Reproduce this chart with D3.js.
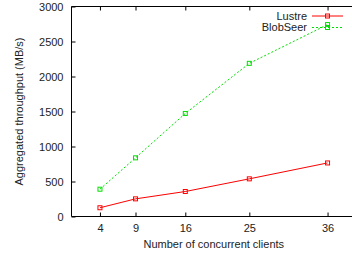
<!DOCTYPE html>
<html>
<head>
<meta charset="utf-8">
<script src="https://cdn.jsdelivr.net/npm/d3@7"></script>
<style>
  body { margin: 0; background: #fff; }
  svg text { font-family: "Liberation Sans", Arial, sans-serif; fill: #222; }
</style>
</head>
<body>
<svg id="chart"></svg>
<script>
const clients = [4, 9, 16, 25, 36];
const lustre = [125, 252, 357, 538, 765];
const blobseer = [390, 838, 1472, 2188, 2742];
const yTicks = [0, 500, 1000, 1500, 2000, 2500, 3000];
const seriesNames = ["Lustre", "BlobSeer"];

const W = 352, H = 254;
const plot = { left: 71.5, right: 356, top: 6.5, bottom: 216.5 };

const svg = d3.select("#chart").attr("width", W).attr("height", H);

const x = d3.scaleLinear().domain([0, 40]).range([plot.left, plot.right]);
const y = d3.scaleLinear().domain([0, 3000]).range([plot.bottom, plot.top]);

// ticks inward on all sides
svg.append("g").attr("transform", `translate(0,${plot.bottom})`)
    .call(d3.axisBottom(x).tickValues(clients).tickSize(-4).tickPadding(8).tickFormat(d3.format("d")))
    .call(g => g.select(".domain").remove())
    .call(g => g.selectAll("text").style("font-size", "11px"));
svg.append("g").attr("transform", `translate(0,${plot.top})`)
    .call(d3.axisTop(x).tickValues(clients).tickSize(-4).tickFormat(""))
    .call(g => g.select(".domain").remove());
svg.append("g").attr("transform", `translate(${plot.left},0)`)
    .call(d3.axisLeft(y).tickValues(yTicks).tickSize(-4).tickPadding(8).tickFormat(d3.format("d")))
    .call(g => g.select(".domain").remove())
    .call(g => g.selectAll("text").style("font-size", "11px"));

// frame
svg.append("path")
    .attr("d", `M${plot.right},${plot.top}H${plot.left}V${plot.bottom}H${plot.right}`)
    .attr("fill", "none").attr("stroke", "#000").attr("stroke-width", 1);

const line = d3.line().x(d => x(d[0])).y(d => y(d[1]));

const series = [
    { name: seriesNames[0], values: lustre, color: "#ff0000", dash: null },
    { name: seriesNames[1], values: blobseer, color: "#00e000", dash: "2,2" }
];

series.forEach((s, i) => {
    const pts = clients.map((c, j) => [c, s.values[j]]);
    svg.append("path").datum(pts)
        .attr("d", line)
        .attr("fill", "none")
        .attr("stroke", s.color)
        .attr("stroke-width", 1)
        .attr("stroke-dasharray", s.dash);
    svg.selectAll(null).data(pts).enter().append("rect")
        .attr("x", d => x(d[0]) - 2)
        .attr("y", d => y(d[1]) - 2)
        .attr("width", 4).attr("height", 4)
        .attr("fill", "none").attr("stroke", s.color).attr("stroke-width", 1);

    // legend
    const ly = 16 + i * 11.5;
    svg.append("text")
        .attr("x", 307).attr("y", ly).attr("dy", "0.35em")
        .attr("text-anchor", "end").style("font-size", "11px")
        .text(s.name);
    svg.append("line")
        .attr("x1", 312).attr("x2", 343).attr("y1", ly).attr("y2", ly)
        .attr("stroke", s.color).attr("stroke-width", 1)
        .attr("stroke-dasharray", s.dash);
    svg.append("rect")
        .attr("x", 327.5 - 2).attr("y", ly - 2)
        .attr("width", 4).attr("height", 4)
        .attr("fill", "none").attr("stroke", s.color);
});

// axis titles
svg.append("text")
    .attr("x", (plot.left + plot.right) / 2).attr("y", 248)
    .attr("text-anchor", "middle").style("font-size", "11px")
    .text("Number of concurrent clients");
svg.append("text")
    .attr("transform", `translate(23,${(plot.top + plot.bottom) / 2}) rotate(-90)`)
    .attr("text-anchor", "middle").style("font-size", "11px")
    .text("Aggregated throughput (MB/s)");
</script>
</body>
</html>
